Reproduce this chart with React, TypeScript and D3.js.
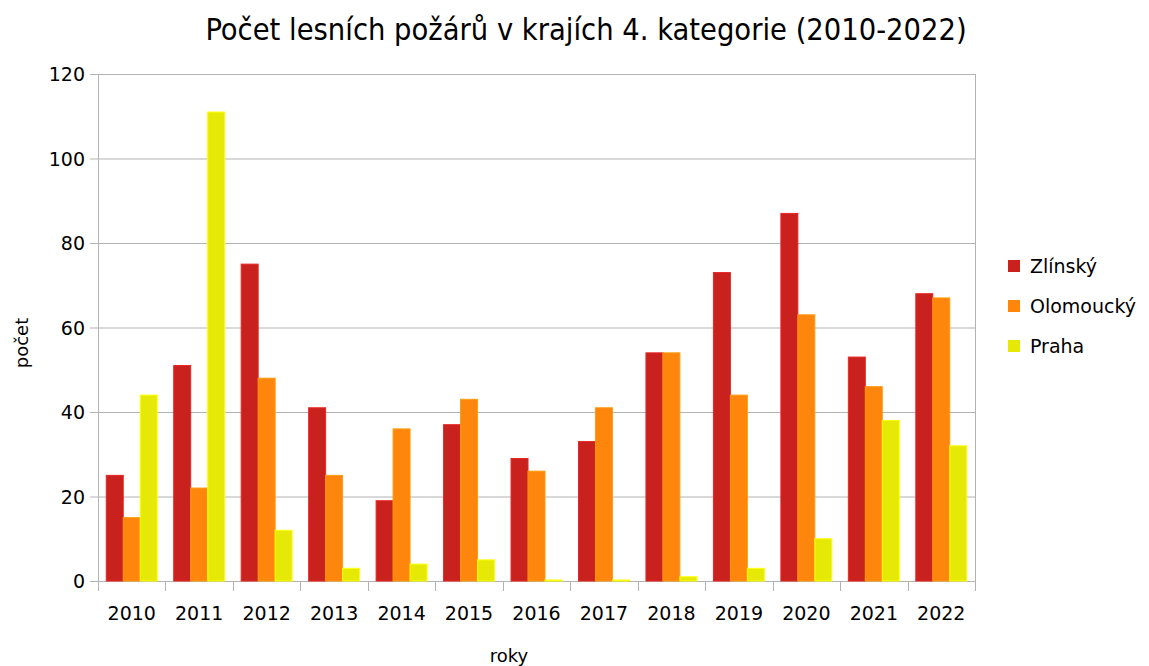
import React, { useEffect, useRef } from 'react';
import * as d3 from 'd3';

const years = ['2010', '2011', '2012', '2013', '2014', '2015', '2016', '2017', '2018', '2019', '2020', '2021', '2022'];
const seriesNames = ['Zlínský', 'Olomoucký', 'Praha'];
const zlinsky = [25, 51, 75, 41, 19, 37, 29, 33, 54, 73, 87, 53, 68];
const olomoucky = [15, 22, 48, 25, 36, 43, 26, 41, 54, 44, 63, 46, 67];
const praha = [44, 111, 12, 3, 4, 5, 0, 0, 1, 3, 10, 38, 32];
const yTicks = [0, 20, 40, 60, 80, 100, 120];
const colors = ['#c9211e', '#ff860d', '#e6e905'];

const App: React.FC = () => {
	const svgRef = useRef<SVGSVGElement | null>(null);

	useEffect(() => {
		if (svgRef.current == null) return;
		const width = 1149;
		const height = 666;
		const margin = { top: 74, right: 174, bottom: 85, left: 98 };
		const innerWidth = width - margin.left - margin.right;
		const innerHeight = height - margin.top - margin.bottom;
		const font = 'DejaVu Sans, Verdana, sans-serif';
		const series = [zlinsky, olomoucky, praha];

		const svg = d3.select(svgRef.current);
		svg.selectAll('*').remove();
		svg.attr('width', width).attr('height', height);

		svg.append('rect').attr('width', width).attr('height', height).attr('fill', '#fff');

		svg.append('text')
			.attr('x', 586).attr('y', 40)
			.attr('text-anchor', 'middle')
			.attr('font-family', 'DejaVu Sans Condensed, DejaVu Sans, sans-serif').attr('font-size', 30.5)
			.attr('fill', '#000')
			.text('Počet lesních požárů v krajích 4. kategorie (2010-2022)');

		const x0 = d3.scaleBand().domain(years).range([0, innerWidth]).paddingInner(0.245).paddingOuter(0.1225);
		const x1 = d3.scaleBand().domain(seriesNames).range([0, x0.bandwidth()]);
		const y = d3.scaleLinear().domain([0, 120]).range([innerHeight, 0]);
		const step = innerWidth / years.length;

		const g = svg.append('g').attr('transform', `translate(${margin.left},${margin.top})`);

		// grid
		g.selectAll('.grid').data(yTicks).enter().append('line')
			.attr('x1', -8).attr('x2', innerWidth)
			.attr('y1', d => y(d) + 0.5).attr('y2', d => y(d) + 0.5)
			.attr('stroke', '#b3b3b3').attr('stroke-width', 1);

		// right border & left axis
		g.append('line').attr('x1', innerWidth + 0.5).attr('x2', innerWidth + 0.5).attr('y1', 0).attr('y2', innerHeight + 10)
			.attr('stroke', '#b3b3b3');
		g.append('line').attr('x1', 0.5).attr('x2', 0.5).attr('y1', 0).attr('y2', innerHeight + 10)
			.attr('stroke', '#b3b3b3');

		// x category ticks
		g.selectAll('.xtick').data(d3.range(1, years.length)).enter().append('line')
			.attr('x1', d => Math.round(d * step) + 0.5).attr('x2', d => Math.round(d * step) + 0.5)
			.attr('y1', innerHeight).attr('y2', innerHeight + 10)
			.attr('stroke', '#b3b3b3');

		// bars
		series.forEach((vals, si) => {
			g.selectAll(`.bar${si}`).data(vals).enter().append('rect')
				.attr('x', (d, i) => (x0(years[i]) ?? 0) + (x1(seriesNames[si]) ?? 0))
				.attr('y', d => Math.min(y(d), innerHeight - 1))
				.attr('width', x1.bandwidth())
				.attr('height', d => Math.max(innerHeight - y(d), 1))
				.attr('fill', colors[si])
				.attr('stroke', d3.color(colors[si])!.brighter(0.4).toString())
				.attr('stroke-width', 1);
		});

		// y labels
		g.selectAll('.ylab').data(yTicks).enter().append('text')
			.attr('x', -13).attr('y', d => y(d) + 7)
			.attr('text-anchor', 'end')
			.attr('font-family', font).attr('font-size', 19)
			.attr('fill', '#000')
			.text(d => d);

		// x labels
		g.selectAll('.xlab').data(years).enter().append('text')
			.attr('x', d => (x0(d) ?? 0) + x0.bandwidth() / 2)
			.attr('y', innerHeight + 39)
			.attr('text-anchor', 'middle')
			.attr('font-family', font).attr('font-size', 19)
			.attr('fill', '#000')
			.text(d => d);

		svg.append('text')
			.attr('x', 509).attr('y', 662)
			.attr('text-anchor', 'middle')
			.attr('font-family', font).attr('font-size', 18)
			.text('roky');

		svg.append('text')
			.attr('transform', 'translate(28,343) rotate(-90)')
			.attr('text-anchor', 'middle')
			.attr('font-family', font).attr('font-size', 18)
			.text('počet');

		// legend
		const leg = svg.append('g').attr('transform', 'translate(1008,260)');
		seriesNames.forEach((name, i) => {
			leg.append('rect')
				.attr('x', 0).attr('y', i * 40).attr('width', 12).attr('height', 12)
				.attr('fill', colors[i]);
			leg.append('text')
				.attr('x', 22).attr('y', i * 40 + 13)
				.attr('font-family', font).attr('font-size', 19)
				.text(name);
		});
	}, []);

	return (
		<svg ref={svgRef} style={{ position: 'absolute', left: 0, top: 0, display: 'block' }}></svg>
	);
};

export default App;
